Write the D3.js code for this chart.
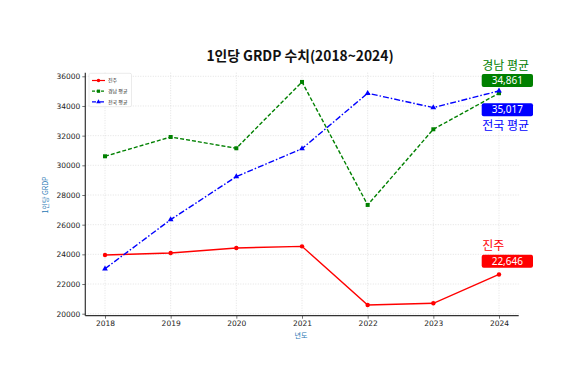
<!DOCTYPE html>
<html><head><meta charset="utf-8">
<script src="https://cdn.jsdelivr.net/npm/d3@7"></script>
<style>body{margin:0;background:#fff}svg{display:block}</style>
</head><body>
<script>
const years = [2018, 2019, 2020, 2021, 2022, 2023, 2024];
const jinju = [23960, 24090, 24430, 24540, 20590, 20700, 22646];
const gyeongnam = [30610, 31910, 31150, 35620, 27330, 32430, 34861];
const national = [23030, 26340, 29240, 31120, 34860, 33890, 35017];
const yTicks = [20000, 22000, 24000, 26000, 28000, 30000, 32000, 34000, 36000];
const seriesNames = ["진주", "경남 평균", "전국 평균"];
const seriesColors = ["#ff0000", "#008000", "#0000ff"];
const titleText = "1인당 GRDP 수치(2018~2024)";
const xLabel = "년도", yLabel = "1인당 GRDP";

const W = 580, H = 388;
const svg = d3.select("body").append("svg").attr("width", W).attr("height", H);
const L = 85.3, R = 518.7, T = 72.7, B = 315.7;
const x = d3.scaleLinear().domain([2017.7, 2024.3]).range([L, R]);
const y = d3.scaleLinear().domain([20000, 36000]).range([313.7, 76.3]);

// grid
const g = svg.append("g");
g.selectAll(".vg").data(years).join("line")
  .attr("x1", d => x(d)).attr("x2", d => x(d)).attr("y1", T).attr("y2", B)
  .attr("stroke", "#d0d0d0").attr("stroke-width", 0.6).attr("stroke-dasharray", "1,1.5");
g.selectAll(".hg").data(yTicks).join("line")
  .attr("x1", L).attr("x2", R).attr("y1", d => y(d)).attr("y2", d => y(d))
  .attr("stroke", "#d0d0d0").attr("stroke-width", 0.6).attr("stroke-dasharray", "1,1.5");

// axes
const yAxis = d3.axisLeft(y).tickValues(yTicks).tickFormat(d3.format("d")).tickSize(3).tickPadding(2);
const xAxis = d3.axisBottom(x).tickValues(years).tickFormat(d3.format("d")).tickSize(3).tickPadding(2);
const ya = svg.append("g").attr("transform", `translate(${L},0)`).call(yAxis);
const xa = svg.append("g").attr("transform", `translate(0,${B})`).call(xAxis);
[ya, xa].forEach(a => {
  a.select(".domain").remove();
  a.selectAll("text").attr("font-family", "DejaVu Sans").attr("font-size", 7.5).attr("fill", "#222");
  a.selectAll("line").attr("stroke", "#333").attr("stroke-width", 0.7);
});
svg.append("line").attr("x1", L).attr("x2", L).attr("y1", T).attr("y2", B).attr("stroke", "#333").attr("stroke-width", 1.2);
svg.append("line").attr("x1", L).attr("x2", R).attr("y1", B).attr("y2", B).attr("stroke", "#333").attr("stroke-width", 1.2);

// labels
svg.append("text").attr("x", 300).attr("y", 61).attr("text-anchor", "middle")
  .attr("font-family", "Noto Sans CJK KR").attr("font-weight", "bold").attr("font-size", 13.8).attr("fill", "#111").text(titleText);
svg.append("text").attr("x", 301).attr("y", 338).attr("text-anchor", "middle")
  .attr("font-family", "Noto Sans CJK KR").attr("font-size", 7).attr("fill", "#1f77b4").text(xLabel);
svg.append("text").attr("transform", "translate(48,195) rotate(-90)").attr("text-anchor", "middle")
  .attr("font-family", "Noto Sans CJK KR").attr("font-size", 7).attr("fill", "#1f77b4").text(yLabel);

// series
const line = d3.line().x((d, i) => x(years[i])).y(d => y(d));
const seriesData = [jinju, gyeongnam, national];
const dashes = [null, "4,2", "6,2,1.5,2"];
seriesData.forEach((s, k) => {
  svg.append("path").datum(s).attr("d", line).attr("fill", "none")
    .attr("stroke", seriesColors[k]).attr("stroke-width", 1.4)
    .attr("stroke-dasharray", dashes[k]);
});
function marker(sel, k, cx, cy, sz) {
  if (k === 0) sel.append("circle").attr("cx", cx).attr("cy", cy).attr("r", sz * 0.55).attr("fill", seriesColors[k]);
  else if (k === 1) sel.append("rect").attr("x", cx - sz / 2).attr("y", cy - sz / 2).attr("width", sz).attr("height", sz).attr("fill", seriesColors[k]);
  else sel.append("path").attr("d", d3.symbol(d3.symbolTriangle, sz * sz * 0.9)()).attr("transform", `translate(${cx},${cy})`).attr("fill", seriesColors[k]);
}
seriesData.forEach((s, k) => {
  s.forEach((v, i) => marker(svg, k, x(years[i]), y(v), 4));
});

// legend
const lg = svg.append("g");
lg.append("rect").attr("x", 89).attr("y", 73.3).attr("width", 42.5).attr("height", 33.4).attr("rx", 1.5)
  .attr("fill", "#fff").attr("fill-opacity", 0.9).attr("stroke", "#ddd").attr("stroke-width", 0.6);
seriesNames.forEach((n, k) => {
  const cy = 80.5 + k * 10.7;
  lg.append("line").attr("x1", 92).attr("x2", 105).attr("y1", cy).attr("y2", cy)
    .attr("stroke", seriesColors[k]).attr("stroke-width", 1.2).attr("stroke-dasharray", dashes[k] ? (k === 1 ? "3,1.5" : "4,1.5,1,1.5") : null);
  marker(lg, k, 98.5, cy, 3.2);
  lg.append("text").attr("x", 108).attr("y", cy + 1.8).attr("font-family", "Noto Sans CJK KR")
    .attr("font-size", 5).attr("fill", "#222").text(n);
});

// annotations
const fmt = d3.format(",");
function badge(val, color, by) {
  svg.append("rect").attr("x", 481.7).attr("y", by).attr("width", 51.3).attr("height", 13).attr("rx", 2)
    .attr("fill", color);
  svg.append("text").attr("x", 507.3).attr("y", by + 10).attr("text-anchor", "middle")
    .attr("font-family", "Noto Sans").attr("font-size", 10).attr("fill", "#fff").text(fmt(val));
}
function label(t, color, ly) {
  svg.append("text").attr("x", 482.3).attr("y", ly).attr("font-family", "Noto Sans CJK KR")
    .attr("font-size", 12).attr("fill", color).text(t);
}
label(seriesNames[1], seriesColors[1], 70);
badge(gyeongnam[6], seriesColors[1], 74);
badge(national[6], seriesColors[2], 103.2);
label(seriesNames[2], seriesColors[2], 130);
label(seriesNames[0], seriesColors[0], 249.5);
badge(jinju[6], seriesColors[0], 254.8);
</script>
</body></html>
